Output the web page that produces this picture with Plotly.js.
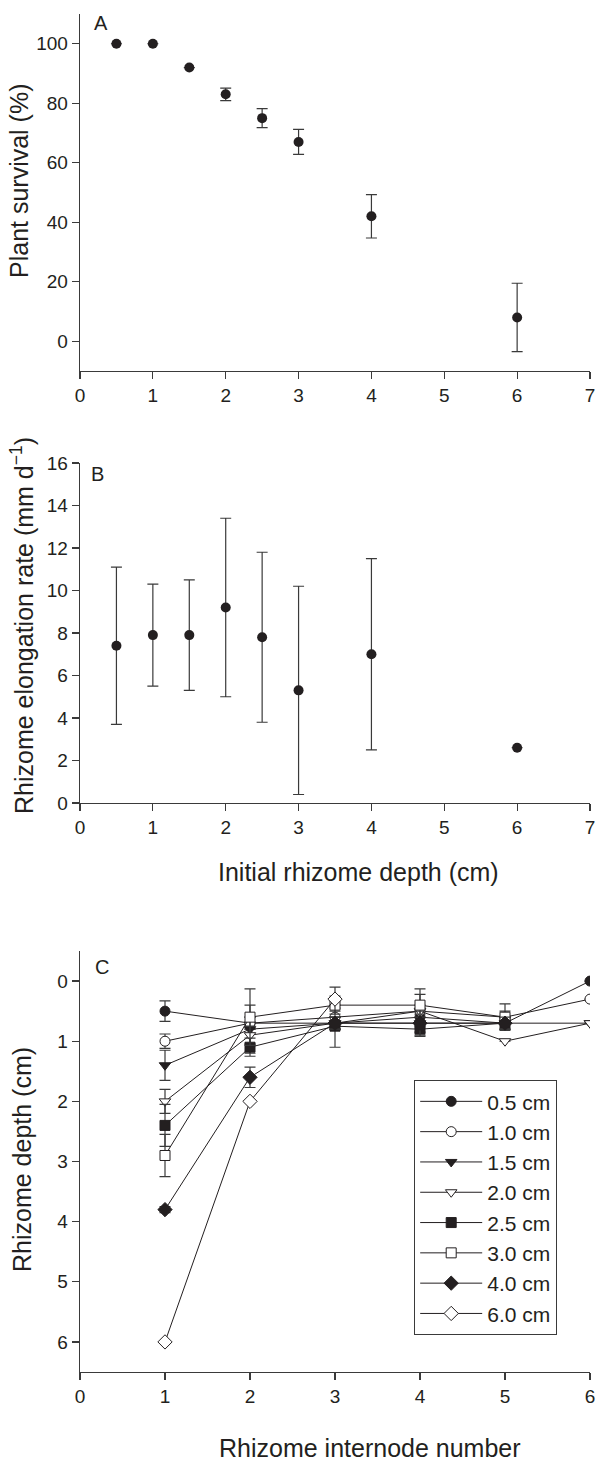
<!DOCTYPE html>
<html>
<head>
<meta charset="utf-8">
<script src="https://cdn.plot.ly/plotly-3.0.1.min.js"></script>
<style>html,body{margin:0;padding:0;background:#fff;}#chart{width:598px;height:1461px;}</style>
</head>
<body>
<div id="chart"></div>
<script>
// ---------- DATA ----------
// Panel A: plant survival (%)
const depthA = [0.5, 1, 1.5, 2, 2.5, 3, 4, 6];
const survival = [100, 100, 92, 83, 75, 67, 42, 8];
const survivalErr = [0, 0, 0, 2.1, 3.2, 4.2, 7.3, 11.5];

// Panel B: rhizome elongation rate (mm d-1)
const depthB = [0.5, 1, 1.5, 2, 2.5, 3, 4, 6];
const elongation = [7.4, 7.9, 7.9, 9.2, 7.8, 5.3, 7.0, 2.6];
const elongationErr = [3.7, 2.4, 2.6, 4.2, 4.0, 4.9, 4.5, 0];

// Panel C: rhizome depth (cm) per internode, by initial depth
const internode = [1, 2, 3, 4, 5, 6];
const seriesNames = ['0.5 cm', '1.0 cm', '1.5 cm', '2.0 cm', '2.5 cm', '3.0 cm', '4.0 cm', '6.0 cm'];
const depth05 = [0.5, 0.7, 0.7, 0.6, 0.7, 0.0];
const err05   = [0.17, 0.1, 0.1, 0.15, 0.1, 0];
const depth10 = [1.0, 0.7, 0.6, 0.5, 0.6, 0.3];
const err10   = [0.12, 0.1, 0.15, 0.28, 0.22, 0];
const depth15 = [1.4, 0.8, 0.7, 0.7, 0.7, 0.7];
const err15   = [0.25, 0.4, 0.1, 0.15, 0.1, 0];
const depth20 = [2.0, 0.9, 0.7, 0.5, 1.0, 0.7];
const err20   = [0.2, 0.15, 0.1, 0.1, 0, 0];
const depth25 = [2.4, 1.1, 0.75, 0.8, 0.7];
const err25   = [0.35, 0.15, 0.35, 0.12, 0.1];
const depth30 = [2.9, 0.6, 0.4, 0.4, 0.6];
const err30   = [0.35, 0.47, 0.15, 0.27, 0.1];
const depth40 = [3.8, 1.6, 0.7, 0.7, 0.7];
const err40   = [0.05, 0.17, 0.1, 0.2, 0.1];
const depth60 = [6.0, 2.0, 0.3];
const err60   = [0, 0, 0.2];

// ---------- STYLE ----------
const W = 598, H = 1461;
const INK = '#231f20';
const AX = '#3a3a3a';
const FONT = 'Liberation Sans, Arial, Helvetica, sans-serif';
const px2x = p => p / W;
const px2y = p => 1 - p / H;

const cSeries = [
  {y: depth05, e: err05, sym: 'circle', fill: INK},
  {y: depth10, e: err10, sym: 'circle', fill: '#ffffff'},
  {y: depth15, e: err15, sym: 'triangle-down', fill: INK},
  {y: depth20, e: err20, sym: 'triangle-down', fill: '#ffffff'},
  {y: depth25, e: err25, sym: 'square', fill: INK},
  {y: depth30, e: err30, sym: 'square', fill: '#ffffff'},
  {y: depth40, e: err40, sym: 'diamond', fill: INK},
  {y: depth60, e: err60, sym: 'diamond', fill: '#ffffff'}
];

const errStyle = {type: 'data', visible: true, color: AX, thickness: 1.2, width: 5.5};

const traces = [];
traces.push({
  x: depthA, y: survival, xaxis: 'x', yaxis: 'y', type: 'scatter', mode: 'markers',
  marker: {size: 10, color: INK},
  error_y: Object.assign({array: survivalErr}, errStyle),
  showlegend: false
});
traces.push({
  x: depthB, y: elongation, xaxis: 'x2', yaxis: 'y2', type: 'scatter', mode: 'markers',
  marker: {size: 10, color: INK},
  error_y: Object.assign({array: elongationErr}, errStyle),
  showlegend: false
});
cSeries.forEach((s, i) => {
  traces.push({
    x: internode.slice(0, s.y.length), y: s.y, xaxis: 'x3', yaxis: 'y3',
    type: 'scatter', mode: 'lines+markers', name: seriesNames[i],
    line: {color: INK, width: 1},
    marker: {symbol: s.sym, size: s.sym === 'diamond' ? 11 : 10,
             color: s.fill, line: {color: INK, width: 1}},
    error_y: Object.assign({array: s.e}, errStyle),
    showlegend: true
  });
});

const axBase = {
  showline: true, linecolor: AX, linewidth: 1.3, ticks: 'outside', ticklen: 7,
  tickwidth: 1.2, tickcolor: AX, showgrid: false, zeroline: false,
  tickfont: {family: FONT, size: 19, color: INK}, fixedrange: true
};

const xDom = [px2x(80), px2x(590)];
const label = (t, x, y) => ({text: t, x: px2x(x), y: px2y(y), xref: 'paper', yref: 'paper',
  xanchor: 'center', yanchor: 'middle', showarrow: false, font: {family: FONT, size: 20, color: INK}});
const title = (t, x, y, rot) => ({text: t, x: px2x(x), y: px2y(y), xref: 'paper', yref: 'paper',
  textangle: rot, xanchor: 'center', yanchor: 'middle', showarrow: false, font: {family: FONT, size: 25, color: INK}});

const layout = {
  width: W, height: H,
  margin: {l: 0, r: 0, t: 0, b: 0, pad: 0},
  paper_bgcolor: '#fff', plot_bgcolor: '#fff',
  font: {family: FONT, color: INK},
  xaxis: Object.assign({}, axBase, {domain: xDom, range: [0, 7], tick0: 0, dtick: 1, anchor: 'y'}),
  yaxis: Object.assign({}, axBase, {domain: [px2y(371), px2y(14)], range: [-10, 110], tick0: 0, dtick: 20, anchor: 'x'}),
  xaxis2: Object.assign({}, axBase, {domain: xDom, range: [0, 7], tick0: 0, dtick: 1, anchor: 'y2'}),
  yaxis2: Object.assign({}, axBase, {domain: [px2y(803), px2y(463)], range: [0, 16], tick0: 0, dtick: 2, anchor: 'x2'}),
  xaxis3: Object.assign({}, axBase, {domain: xDom, range: [0, 6], tick0: 0, dtick: 1, anchor: 'y3'}),
  yaxis3: Object.assign({}, axBase, {domain: [px2y(1372), px2y(951)], range: [6.5, -0.5], tick0: 0, dtick: 1, anchor: 'x3'}),
  showlegend: true,
  legend: {
    x: px2x(414), y: px2y(1080), xanchor: 'left', yanchor: 'top',
    bgcolor: '#fff', bordercolor: AX, borderwidth: 1.2,
    font: {family: FONT, size: 21, color: INK},
    itemwidth: 62, tracegroupgap: 0, traceorder: 'normal'
  },
  annotations: [
    label('A', 101, 23),
    label('B', 97, 474),
    label('C', 102, 967),
    title('Plant survival (%)', 19, 181, -90),
    title('Rhizome elongation rate (mm d<sup>−1</sup>)', 22, 626, -90),
    title('Initial rhizome depth (cm)', 358, 872, 0),
    title('Rhizome depth (cm)', 22, 1160, -90),
    title('Rhizome internode number', 370, 1448, 0)
  ]
};

Plotly.newPlot('chart', traces, layout, {displayModeBar: false, staticPlot: true});
</script>
</body>
</html>
